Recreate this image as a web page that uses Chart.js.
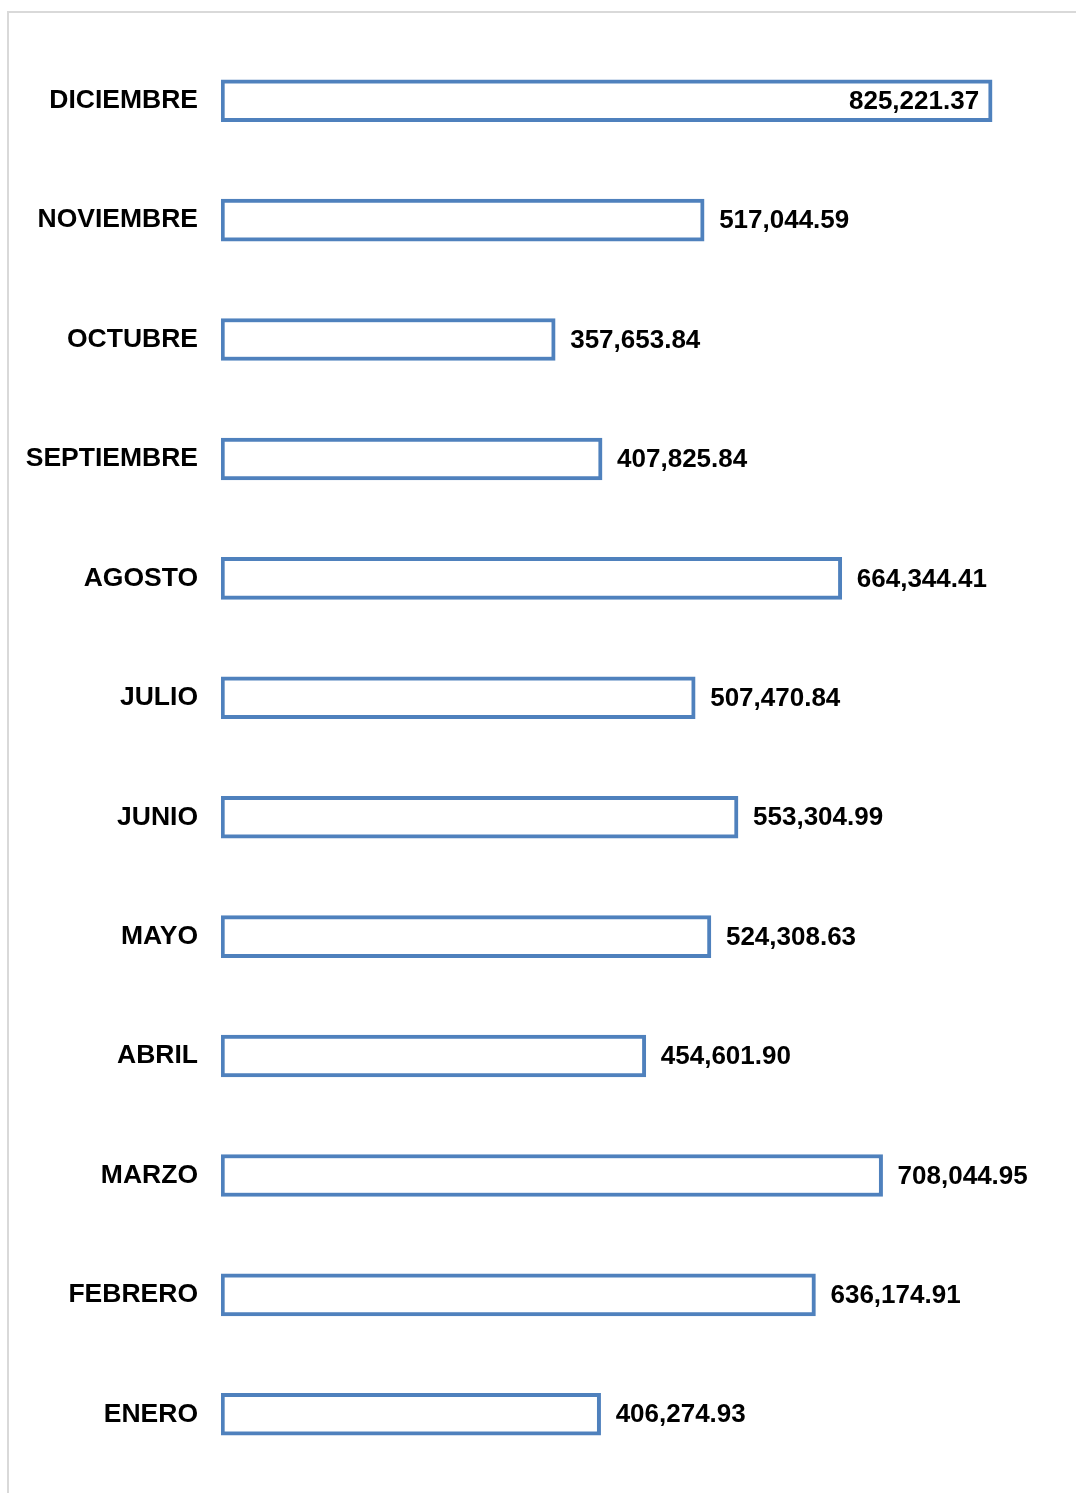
<!DOCTYPE html>
<html>
<head>
<meta charset="utf-8">
<script src="https://cdn.jsdelivr.net/npm/chart.js@4/dist/chart.umd.min.js"></script>
<style>
  html, body { margin: 0; padding: 0; background: #fff; }
  #wrap { width: 1076px; height: 1493px; position: relative; }
</style>
</head>
<body>
<div id="wrap"><canvas id="barChart" width="1076" height="1493"></canvas></div>
<script>
const months = ['ENERO', 'FEBRERO', 'MARZO', 'ABRIL', 'MAYO', 'JUNIO', 'JULIO',
  'AGOSTO', 'SEPTIEMBRE', 'OCTUBRE', 'NOVIEMBRE', 'DICIEMBRE'];
const amounts = [406274.93, 636174.91, 708044.95, 454601.90, 524308.63, 553304.99,
  507470.84, 664344.41, 407825.84, 357653.84, 517044.59, 825221.37];

const labelFont = 'bold 26px "Liberation Sans", Arial, sans-serif';

// gray frame on the top and left
const framePlugin = {
  id: 'frame',
  beforeDraw(chart) {
    const ctx = chart.ctx;
    ctx.save();
    ctx.fillStyle = '#fff';
    ctx.fillRect(0, 0, chart.width, chart.height);
    ctx.strokeStyle = '#d9d9d9';
    ctx.lineWidth = 2;
    ctx.beginPath();
    ctx.moveTo(8, chart.height);
    ctx.lineTo(8, 12);
    ctx.lineTo(chart.width, 12);
    ctx.stroke();
    ctx.restore();
  }
};

// value labels at the end of each bar
const valuePlugin = {
  id: 'values',
  afterDatasetsDraw(chart) {
    const ctx = chart.ctx;
    const meta = chart.getDatasetMeta(0);
    ctx.save();
    ctx.font = labelFont;
    ctx.fillStyle = '#000';
    ctx.textBaseline = 'middle';
    meta.data.forEach((bar, i) => {
      const text = amounts[i].toLocaleString('en-US', { minimumFractionDigits: 2, maximumFractionDigits: 2 });
      const w = ctx.measureText(text).width;
      if (bar.x + 15 + w > chart.chartArea.right) {
        ctx.textAlign = 'right';
        ctx.fillText(text, bar.x - 13, bar.y + 1);
      } else {
        ctx.textAlign = 'left';
        ctx.fillText(text, bar.x + 15, bar.y + 1);
      }
    });
    ctx.restore();
  }
};

const ctx = document.getElementById('barChart').getContext('2d');
new Chart(ctx, {
  type: 'bar',
  data: {
    labels: months,
    datasets: [{
      data: amounts,
      backgroundColor: '#ffffff',
      borderColor: '#4F81BD',
      borderWidth: 4,
      borderSkipped: false,
      barThickness: 42,
    }],
  },
  options: {
    indexAxis: 'y',
    responsive: false,
    animation: false,
    layout: { padding: { top: 41, bottom: 19, left: 0, right: 0 } },
    plugins: {
      legend: { display: false },
      tooltip: { enabled: false },
    },
    scales: {
      x: {
        display: false,
        min: 0,
        max: 915000,
      },
      y: {
        reverse: true,
        grid: { display: false },
        border: { display: false },
        ticks: {
          color: '#000',
          padding: 15,
          font: { family: '"Liberation Sans", Arial, sans-serif', size: 26.5, weight: 'bold' },
        },
        afterFit(scale) {
          scale.width = 221;
          scale.paddingTop = 0;
          scale.paddingBottom = 0;
        },
      },
    },
  },
  plugins: [framePlugin, valuePlugin],
});
</script>
</body>
</html>
